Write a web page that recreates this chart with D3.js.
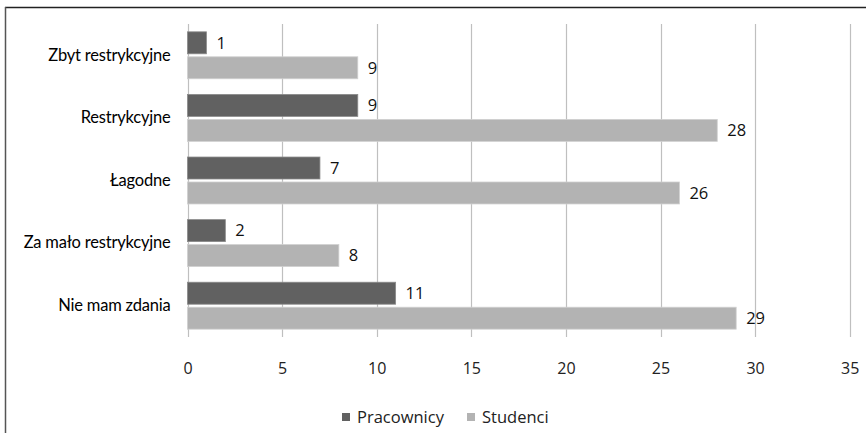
<!DOCTYPE html>
<html>
<head>
<meta charset="utf-8">
<script src="https://cdn.jsdelivr.net/npm/d3@7"></script>
<style>
  html, body { margin: 0; padding: 0; background: #fff; }
  svg { display: block; }
</style>
</head>
<body>
<svg id="chart" width="866" height="433"></svg>
<script>
// Survey answers, top to bottom
const categories = ["Zbyt restrykcyjne", "Restrykcyjne", "Łagodne", "Za mało restrykcyjne", "Nie mam zdania"];
const seriesNames = ["Pracownicy", "Studenci"];
const pracownicy = [1, 9, 7, 2, 11];
const studenci = [9, 28, 26, 8, 29];
const xTicks = [0, 5, 10, 15, 20, 25, 30, 35];
const colors = ["#616161", "#b3b3b3"];

const values = [pracownicy, studenci];
const svg = d3.select("#chart");

// Frame (top and left edges)
svg.append("line").attr("x1", 5).attr("x2", 866).attr("y1", 7.5).attr("y2", 7.5)
  .attr("stroke", "#222").attr("stroke-width", 1.5);
svg.append("line").attr("x1", 5.5).attr("x2", 5.5).attr("y1", 7).attr("y2", 433)
  .attr("stroke", "#555").attr("stroke-width", 1.5);

const plotLeft = 187.5, plotRight = 849.7, plotTop = 24, plotBottom = 337;

const x = d3.scaleLinear().domain([0, 35]).range([plotLeft, plotRight]);
const y = d3.scaleBand().domain(categories).range([plotTop, plotBottom]).paddingInner(0.25).paddingOuter(0.125);
const ySub = d3.scaleBand().domain(seriesNames).range([0, y.bandwidth()]).paddingInner(0.12);

// Vertical gridlines
svg.append("g").selectAll("line").data(xTicks).join("line")
  .attr("x1", d => Math.round(x(d)) + 0.5).attr("x2", d => Math.round(x(d)) + 0.5)
  .attr("y1", plotTop).attr("y2", plotBottom)
  .attr("stroke", "#bfbfbf").attr("stroke-width", 1.2);

// X axis tick labels
const xAxis = d3.axisBottom(x).tickValues(xTicks).tickSize(0).tickPadding(0);
const gx = svg.append("g").attr("transform", `translate(0, ${plotBottom + 37})`).call(xAxis);
gx.select(".domain").remove();
gx.selectAll("text").attr("font-family", "Open Sans, sans-serif").attr("font-size", 16)
  .attr("fill", "#222").attr("dy", "0");

// Category labels
const yAxis = d3.axisLeft(y).tickSize(0).tickPadding(17);
const gy = svg.append("g").attr("transform", `translate(${plotLeft}, 0)`).call(yAxis);
gy.select(".domain").remove();
gy.selectAll("text").attr("font-family", "Lato, sans-serif").attr("font-size", 16.5)
  .attr("fill", "#000").attr("letter-spacing", "-0.2");

// Bars and value labels
const groups = svg.append("g").selectAll("g").data(categories).join("g")
  .attr("transform", d => `translate(0, ${y(d)})`);

seriesNames.forEach((s, si) => {
  groups.append("rect")
    .attr("x", x(0))
    .attr("y", ySub(s))
    .attr("width", (d, i) => x(values[si][i]) - x(0))
    .attr("height", ySub.bandwidth())
    .attr("fill", colors[si])
    .attr("stroke", si === 0 ? "#8a8a8a" : "#d0d0d0")
    .attr("stroke-width", 0.8);
  groups.append("text")
    .attr("x", (d, i) => x(values[si][i]) + 10)
    .attr("y", ySub(s) + ySub.bandwidth() / 2)
    .attr("dy", "0.35em")
    .attr("font-family", "Open Sans, sans-serif")
    .attr("font-size", 16.5)
    .attr("fill", "#111")
    .text((d, i) => values[si][i]);
});

// Legend
const legend = svg.append("g").attr("transform", "translate(342, 413)");
const legendX = [0, 125];
seriesNames.forEach((s, i) => {
  const g = legend.append("g").attr("transform", `translate(${legendX[i]}, 0)`);
  g.append("rect").attr("width", 8).attr("height", 8).attr("fill", colors[i]);
  g.append("text").attr("x", 15).attr("y", 4).attr("dy", "0.38em")
    .attr("font-family", "Open Sans, sans-serif").attr("font-size", 16.5).attr("fill", "#222")
    .text(s);
});
</script>
</body>
</html>
